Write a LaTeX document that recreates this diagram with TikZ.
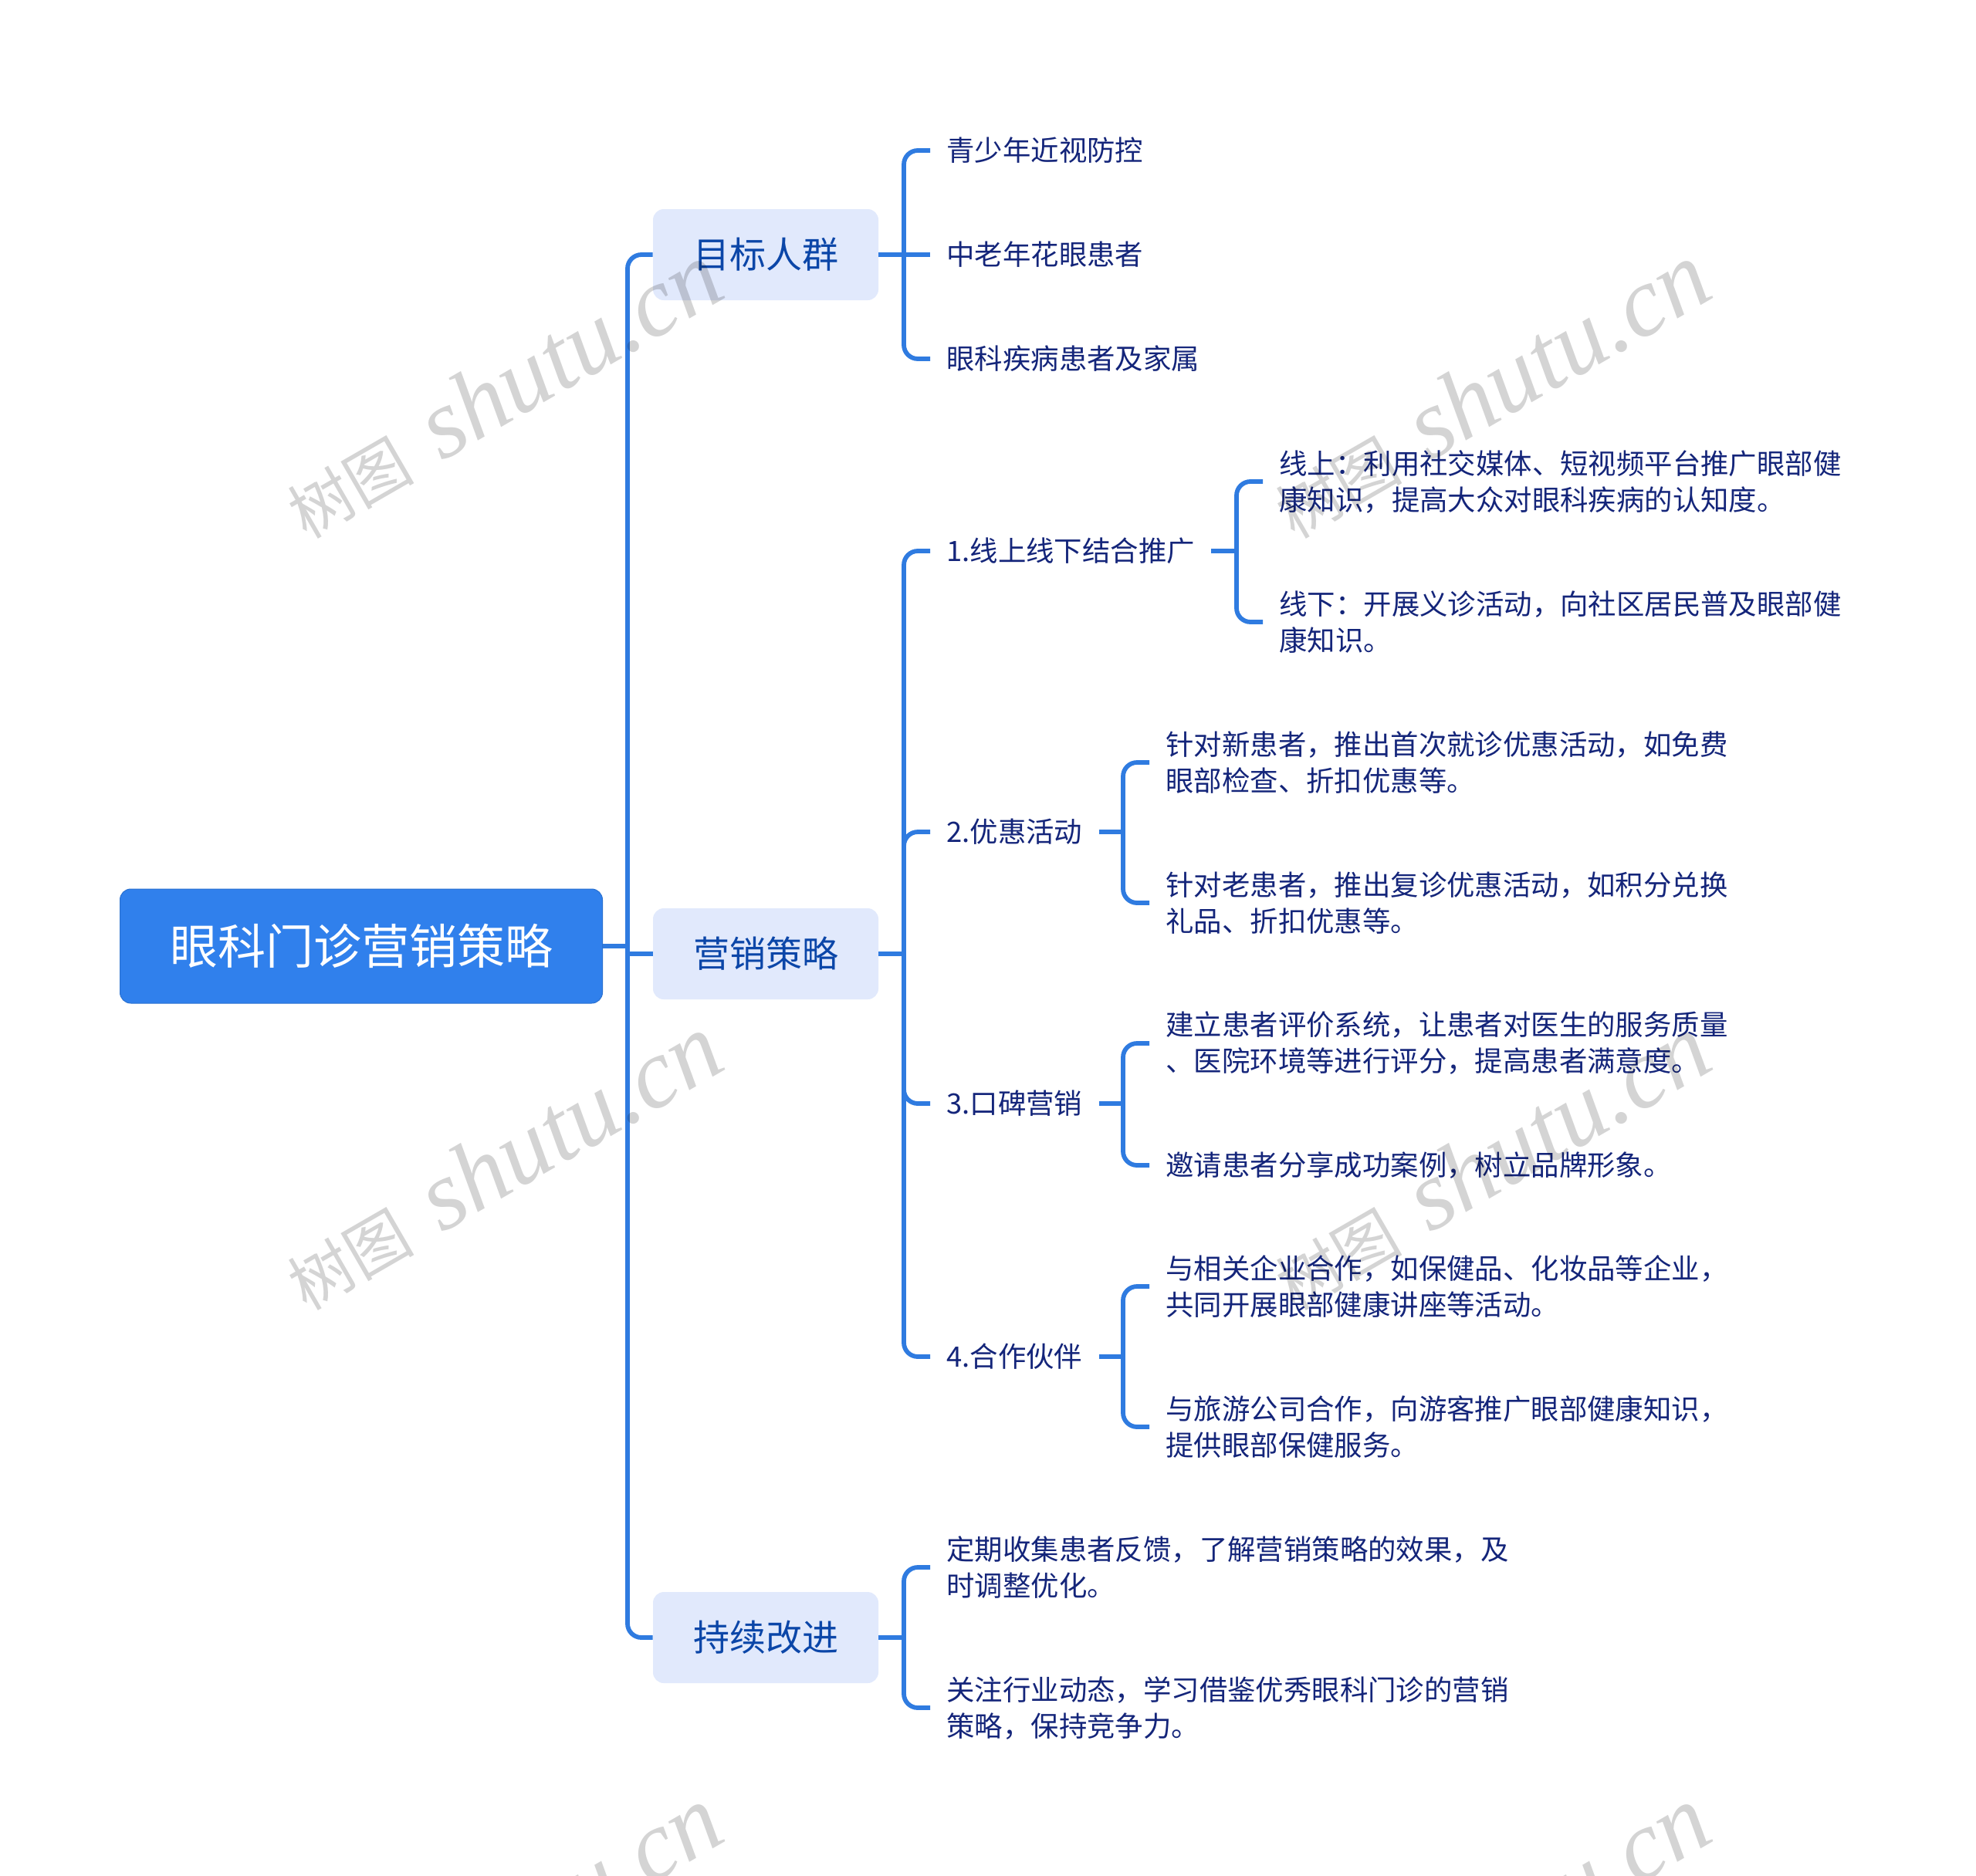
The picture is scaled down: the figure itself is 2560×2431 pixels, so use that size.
\documentclass[tikz,border=0pt]{standalone}
\usepackage{fontspec}
\setmainfont{Noto Sans CJK SC}
\newfontfamily\wmcjk[AutoFakeSlant=0.25]{Noto Sans CJK SC}
\newfontfamily\wmlat{Liberation Serif}
\definecolor{linec}{HTML}{2F7BE0}
\definecolor{rootc}{HTML}{3080EC}
\definecolor{subc}{HTML}{E1E9FC}
\definecolor{subt}{HTML}{0B46A8}
\definecolor{leaft}{HTML}{14257A}
\tikzset{
  x=0.5pt,y=-0.5pt,
  conn/.style={draw=linec,line width=2.9pt,rounded corners=9pt},
  rootbox/.style={rectangle,rounded corners=7pt,fill=rootc,draw=rootc!88!black,line width=0.5pt,minimum width=312.5pt,minimum height=74pt,inner sep=0pt,text=white,font=\fontsize{31}{36}\selectfont},
  subbox/.style={rectangle,rounded corners=7pt,fill=subc,minimum width=146pt,minimum height=59pt,inner sep=0pt,text=subt,font=\fontsize{23.5}{28}\selectfont},
  leaf/.style={rectangle,anchor=west,inner xsep=10.5pt,inner ysep=0pt,align=left,text=leaft,font=\fontsize{18.2}{23.5}\selectfont},
  wmark/.style={anchor=base west,rotate=30,text=black,text opacity=0.17,inner sep=0pt,font=\fontsize{64}{70}\selectfont},
}
\newcommand{\wm}{{\wmcjk\fontsize{41}{70}\selectfont 树图}\hspace{19pt}{\wmlat\itshape shutu.cn}}
\begin{document}
\begin{tikzpicture}
\clip (0,0) rectangle (2560,2431);
\fill[white] (0,0) rectangle (2560,2431);
\coordinate (tr0) at (813,0);
\coordinate (tr1) at (1171,0);
\coordinate (trA) at (1602,0);
\coordinate (trB) at (1455,0);

\node[rootbox] (root) at (468,1226) {眼科门诊营销策略};
\node[subbox] (s1) at (992,330) {目标人群};
\node[subbox] (s2) at (992,1236) {营销策略};
\node[subbox] (s3) at (992,2122) {持续改进};

\node[leaf] (a1) at (1205,195) {青少年近视防控};
\node[leaf] (a2) at (1205,330) {中老年花眼患者};
\node[leaf] (a3) at (1205,465) {眼科疾病患者及家属};

\node[leaf] (b1) at (1205,714) {1.线上线下结合推广};
\node[leaf] (b2) at (1205,1078) {2.优惠活动};
\node[leaf] (b3) at (1205,1430) {3.口碑营销};
\node[leaf] (b4) at (1205,1758) {4.合作伙伴};

\node[leaf] (c1) at (1636,624) {线上：利用社交媒体、短视频平台推广眼部健\\康知识，提高大众对眼科疾病的认知度。};
\node[leaf] (c2) at (1636,806) {线下：开展义诊活动，向社区居民普及眼部健\\康知识。};

\node[leaf] (d1) at (1489,988) {针对新患者，推出首次就诊优惠活动，如免费\\眼部检查、折扣优惠等。};
\node[leaf] (d2) at (1489,1170) {针对老患者，推出复诊优惠活动，如积分兑换\\礼品、折扣优惠等。};

\node[leaf] (e1) at (1489,1352) {建立患者评价系统，让患者对医生的服务质量\\、医院环境等进行评分，提高患者满意度。};
\node[leaf] (e2) at (1489,1510) {邀请患者分享成功案例，树立品牌形象。};

\node[leaf] (f1) at (1489,1667) {与相关企业合作，如保健品、化妆品等企业，\\共同开展眼部健康讲座等活动。};
\node[leaf] (f2) at (1489,1849) {与旅游公司合作，向游客推广眼部健康知识，\\提供眼部保健服务。};

\node[leaf] (g1) at (1205,2031) {定期收集患者反馈，了解营销策略的效果，及\\时调整优化。};
\node[leaf] (g2) at (1205,2213) {关注行业动态，学习借鉴优秀眼科门诊的营销\\策略，保持竞争力。};

% root trunk
\draw[conn] (s1.west) -- (s1.west -| tr0) -- (s3.west -| tr0) -- (s3.west);
\draw[conn] (root.east) -- (root.east -| tr0);
\draw[conn] (s2.west) -- (s2.west -| tr0);
% target group
\draw[conn] (s1.east) -- (a2.west);
\draw[conn] (s1.east -| tr1) -- (a1.west -| tr1) -- (a1.west);
\draw[conn] (s1.east -| tr1) -- (a3.west -| tr1) -- (a3.west);
% strategy
\draw[conn] (s2.east) -- (s2.east -| tr1);
\draw[conn] (s2.east -| tr1) -- (b1.west -| tr1) -- (b1.west);
\draw[conn] (s2.east -| tr1) -- (b2.west -| tr1) -- (b2.west);
\draw[conn] (s2.east -| tr1) -- (b3.west -| tr1) -- (b3.west);
\draw[conn] (s2.east -| tr1) -- (b4.west -| tr1) -- (b4.west);
% sub-branches
\draw[conn] (b1.east) -- (b1.east -| trA);
\draw[conn] (b1.east -| trA) -- (c1.west -| trA) -- (c1.west);
\draw[conn] (b1.east -| trA) -- (c2.west -| trA) -- (c2.west);
\draw[conn] (b2.east) -- (b2.east -| trB);
\draw[conn] (b2.east -| trB) -- (d1.west -| trB) -- (d1.west);
\draw[conn] (b2.east -| trB) -- (d2.west -| trB) -- (d2.west);
\draw[conn] (b3.east) -- (b3.east -| trB);
\draw[conn] (b3.east -| trB) -- (e1.west -| trB) -- (e1.west);
\draw[conn] (b3.east -| trB) -- (e2.west -| trB) -- (e2.west);
\draw[conn] (b4.east) -- (b4.east -| trB);
\draw[conn] (b4.east -| trB) -- (f1.west -| trB) -- (f1.west);
\draw[conn] (b4.east -| trB) -- (f2.west -| trB) -- (f2.west);
% improvement
\draw[conn] (s3.east) -- (s3.east -| tr1);
\draw[conn] (s3.east -| tr1) -- (g1.west -| tr1) -- (g1.west);
\draw[conn] (s3.east -| tr1) -- (g2.west -| tr1) -- (g2.west);

% watermarks
\node[wmark] (w1) at (397,700) {\wm};
\node[wmark] (w2) at (1677,700) {\wm};
\node[wmark] (w3) at (397,1700) {\wm};
\node[wmark] (w4) at (1677,1700) {\wm};
\node[wmark] (w5) at (397,2700) {\wm};
\node[wmark] (w6) at (1677,2700) {\wm};
\end{tikzpicture}
\end{document}
